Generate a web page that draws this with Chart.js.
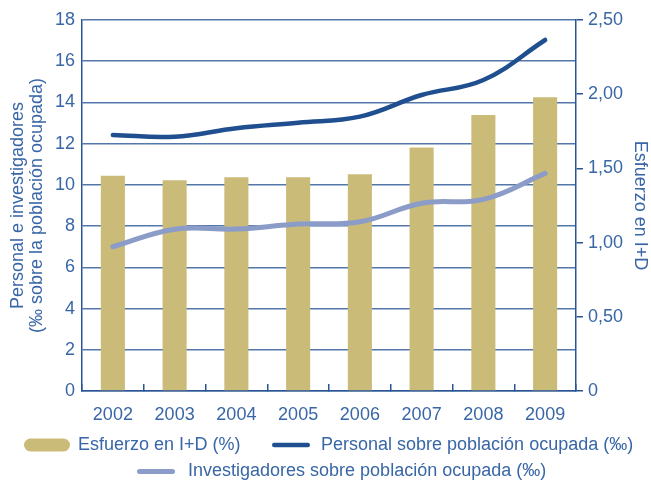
<!DOCTYPE html>
<html>
<head>
<meta charset="utf-8">
<title>Esfuerzo en I+D</title>
<script src="https://cdn.jsdelivr.net/npm/chart.js"></script>
<style>
  html, body { margin: 0; padding: 0; background: #fff; }
</style>
</head>
<body>
<canvas id="chart" width="651" height="480"></canvas>
<script>
// data
const years = ['2002', '2003', '2004', '2005', '2006', '2007', '2008', '2009'];
const esfuerzo = [1.45, 1.42, 1.44, 1.44, 1.46, 1.64, 1.86, 1.98];          // % (right axis)
const personal = [12.42, 12.34, 12.75, 13.02, 13.31, 14.36, 15.09, 17.03];   // ‰ (left axis)
const investigadores = [7.0, 7.85, 7.86, 8.10, 8.21, 9.11, 9.30, 10.56];     // ‰ (left axis)

const leftMax = 18, leftStep = 2;
const rightMax = 2.5, rightStep = 0.5;

const labelEsfuerzo = 'Esfuerzo en I+D (%)';
const labelPersonal = 'Personal sobre población ocupada (‰)';
const labelInvest = 'Investigadores sobre población ocupada (‰)';

const FONT = '"Liberation Sans", Arial, sans-serif';
const FS = 18;
const textColor = '#3866a6';
const gridColor = '#5477ab';
const axisColor = '#2a5595';
const barColor = '#cbbb78';
const darkBlue = '#1f4f8f';
const lightBlue = '#8c9cc8';

Chart.defaults.font.family = FONT;
Chart.defaults.font.size = FS;
Chart.defaults.color = textColor;

// legend drawn on the canvas below the x axis, two rows like the original
const legendItems = [
  { ds: 0, x: 24, y: 445, w: 46, h: 13, textX: 78 },
  { ds: 1, x: 272, y: 445, w: 38, h: 4.5, textX: 321 },
  { ds: 2, x: 137, y: 471.5, w: 38, h: 5, textX: 188 }
];

const legendPlugin = {
  id: 'bottomLegend',
  afterDraw(chart) {
    const ctx = chart.ctx;
    ctx.save();
    ctx.font = FS + 'px ' + FONT;
    ctx.textBaseline = 'middle';
    ctx.textAlign = 'left';
    legendItems.forEach(it => {
      const ds = chart.data.datasets[it.ds];
      ctx.fillStyle = ds.type === 'bar' ? ds.backgroundColor : ds.borderColor;
      ctx.beginPath();
      ctx.roundRect(it.x, it.y - it.h / 2, it.w, it.h, it.h / 2);
      ctx.fill();
      ctx.fillStyle = textColor;
      ctx.fillText(ds.label, it.textX, it.y);
    });
    ctx.restore();
  }
};

new Chart(document.getElementById('chart'), {
  data: {
    labels: years,
    datasets: [
      {
        type: 'bar',
        label: labelEsfuerzo,
        data: esfuerzo,
        yAxisID: 'yRight',
        backgroundColor: barColor,
        categoryPercentage: 1,
        barPercentage: 0.39,
        order: 3
      },
      {
        type: 'line',
        label: labelPersonal,
        data: personal,
        yAxisID: 'yLeft',
        borderColor: darkBlue,
        borderWidth: 4.5,
        borderCapStyle: 'round',
        tension: 0.4,
        pointRadius: 0,
        fill: false,
        order: 1
      },
      {
        type: 'line',
        label: labelInvest,
        data: investigadores,
        yAxisID: 'yLeft',
        borderColor: lightBlue,
        borderWidth: 5,
        borderCapStyle: 'round',
        tension: 0.4,
        pointRadius: 0,
        fill: false,
        order: 2
      }
    ]
  },
  options: {
    responsive: false,
    animation: false,
    layout: { padding: { top: 20, left: 0, right: 0, bottom: 59 } },
    plugins: {
      legend: { display: false },
      tooltip: { enabled: false }
    },
    scales: {
      x: {
        offset: true,
        grid: {
          offset: true,
          drawOnChartArea: false,
          color: axisColor,
          lineWidth: 1.5,
          tickLength: -7
        },
        border: { color: axisColor, width: 1.5 },
        ticks: { color: textColor, padding: 20 },
        afterFit(scale) { scale.height = 30; }
      },
      yLeft: {
        position: 'left',
        min: 0,
        max: leftMax,
        grid: { color: gridColor, lineWidth: 1.5, drawTicks: false },
        border: { color: axisColor, width: 1.5 },
        ticks: { stepSize: leftStep, padding: 7, color: textColor },
        title: {
          display: true,
          text: ['Personal e investigadores', '(‰ sobre la población ocupada)'],
          color: textColor,
          font: { size: FS, lineHeight: 1.03 },
          padding: { top: 9, bottom: 0 }
        },
        afterFit(scale) { scale.width = 82; }
      },
      yRight: {
        position: 'right',
        min: 0,
        max: rightMax,
        grid: { drawOnChartArea: false, color: axisColor, lineWidth: 1.5, tickLength: 7 },
        border: { color: axisColor, width: 1.5 },
        ticks: {
          stepSize: rightStep,
          padding: 5,
          color: textColor,
          callback: v => v === 0 ? '0' : v.toFixed(2).replace('.', ',')
        },
        title: {
          display: true,
          text: 'Esfuerzo en I+D',
          color: textColor,
          font: { size: FS, lineHeight: 1.1 },
          padding: { top: 1, bottom: 0 }
        },
        afterFit(scale) { scale.width = 75; }
      }
    }
  },
  plugins: [legendPlugin]
});
</script>
</body>
</html>
